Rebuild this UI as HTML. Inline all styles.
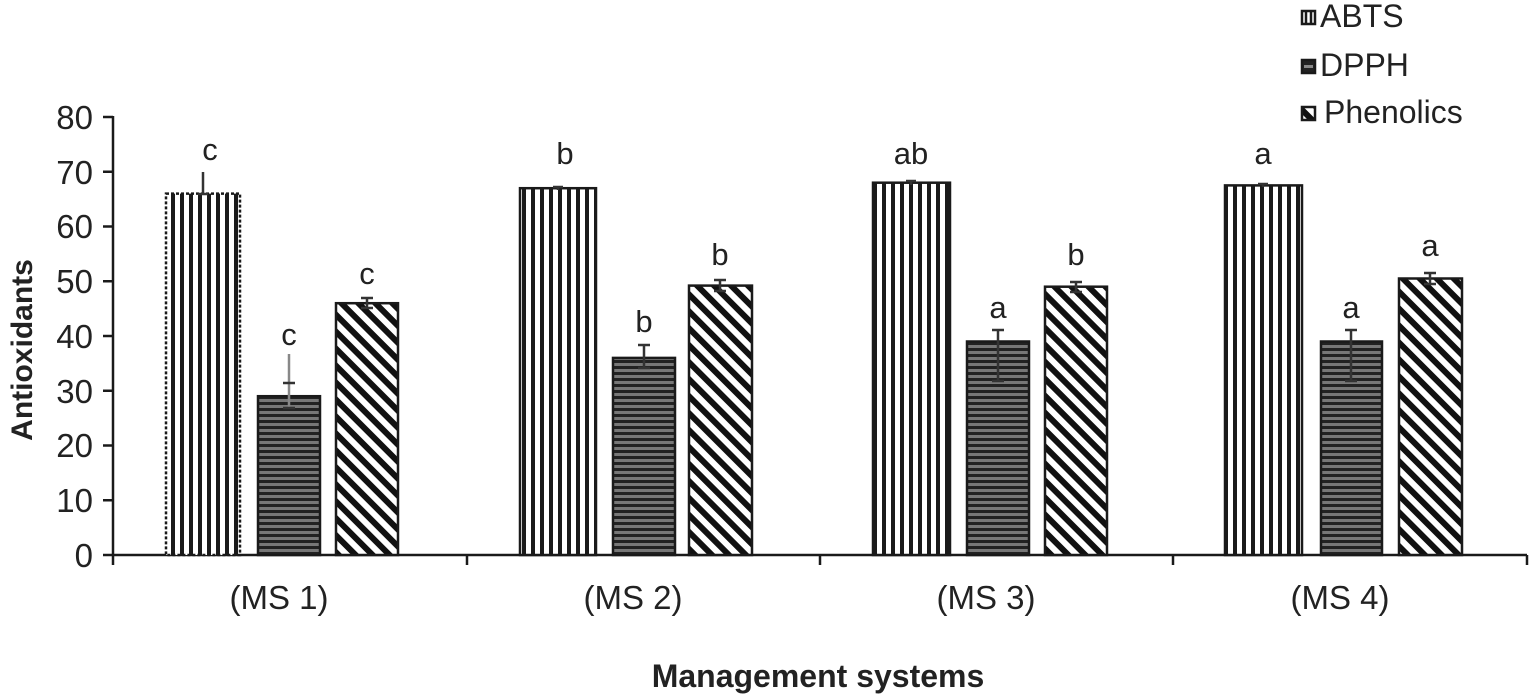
<!DOCTYPE html>
<html><head><meta charset="utf-8"><style>
html,body{margin:0;padding:0;background:#fff;}
svg{display:block;font-family:"Liberation Sans",Arial,sans-serif;}
</style></head><body>
<svg width="1532" height="694" viewBox="0 0 1532 694" xmlns="http://www.w3.org/2000/svg">
<defs>
<pattern id="vs" patternUnits="userSpaceOnUse" width="9" height="10" x="0" y="0">
<rect width="9" height="10" fill="#fff"/><rect x="0" width="4" height="10" fill="#1a1a1a"/></pattern>
<pattern id="hs" patternUnits="userSpaceOnUse" width="10" height="6">
<rect width="10" height="6" fill="#222"/><rect y="3" width="10" height="3" fill="#777"/></pattern>
<pattern id="ds" patternUnits="userSpaceOnUse" width="12" height="12" patternTransform="rotate(-45)">
<rect width="12" height="12" fill="#fff"/><rect width="6" height="12" fill="#111"/></pattern>
</defs>
<g stroke="#1a1a1a" stroke-width="2.5">
<line x1="113" y1="116" x2="113" y2="565"/>
<line x1="112" y1="555" x2="1527" y2="555"/>
<line x1="103" y1="117" x2="113" y2="117"/><line x1="103" y1="171.75" x2="113" y2="171.75"/>
<line x1="103" y1="226.5" x2="113" y2="226.5"/><line x1="103" y1="281.25" x2="113" y2="281.25"/>
<line x1="103" y1="336" x2="113" y2="336"/><line x1="103" y1="390.75" x2="113" y2="390.75"/>
<line x1="103" y1="445.5" x2="113" y2="445.5"/><line x1="103" y1="500.25" x2="113" y2="500.25"/>
<line x1="103" y1="555" x2="113" y2="555"/>
<line x1="467" y1="555" x2="467" y2="565"/><line x1="820" y1="555" x2="820" y2="565"/>
<line x1="1173" y1="555" x2="1173" y2="565"/><line x1="1527" y1="555" x2="1527" y2="565"/>
</g>
<g font-size="33" fill="#222" text-anchor="end">
<text x="93" y="129">80</text><text x="93" y="184">70</text><text x="93" y="238">60</text>
<text x="93" y="293">50</text><text x="93" y="348">40</text><text x="93" y="403">30</text>
<text x="93" y="457">20</text><text x="93" y="512">10</text><text x="93" y="567">0</text>
</g>
<text transform="translate(32,350) rotate(-90)" font-size="30" font-weight="bold" text-anchor="middle" fill="#222">Antioxidants</text>
<text x="818" y="687" font-size="32" font-weight="bold" text-anchor="middle" fill="#222">Management systems</text>
<g font-size="33" fill="#222" text-anchor="middle">
<text x="279" y="609">(MS 1)</text><text x="633" y="609">(MS 2)</text>
<text x="986" y="609">(MS 3)</text><text x="1340" y="609">(MS 4)</text>
</g>
<!-- bars -->
<g stroke="#1a1a1a" stroke-width="2.5">
<rect x="166" y="193.6" width="74" height="361.4" fill="url(#vs)" stroke-dasharray="3,2"/>
<rect x="258" y="396.2" width="62" height="158.8" fill="url(#hs)"/>
<rect x="336" y="303.2" width="62" height="251.8" fill="url(#ds)"/>
<rect x="520" y="188.2" width="76" height="366.8" fill="url(#vs)"/>
<rect x="613" y="357.9" width="62" height="197.1" fill="url(#hs)"/>
<rect x="689" y="285.6" width="63" height="269.4" fill="url(#ds)"/>
<rect x="873" y="182.7" width="77" height="372.3" fill="url(#vs)"/>
<rect x="967" y="341.5" width="62" height="213.5" fill="url(#hs)"/>
<rect x="1045" y="286.7" width="62" height="268.3" fill="url(#ds)"/>
<rect x="1225" y="185.4" width="77" height="369.6" fill="url(#vs)"/>
<rect x="1321" y="341.5" width="61" height="213.5" fill="url(#hs)"/>
<rect x="1399" y="278.5" width="63" height="276.5" fill="url(#ds)"/>
</g>
<!-- error bars -->
<g stroke="#333" stroke-width="2.5">
<line x1="203" y1="172" x2="203" y2="194"/><line x1="198" y1="194" x2="208" y2="194"/>
<line x1="289" y1="354" x2="289" y2="408" stroke="#888"/><line x1="283" y1="383" x2="295" y2="383"/><line x1="283" y1="408" x2="295" y2="408"/>
<line x1="367" y1="298" x2="367" y2="308"/><line x1="361" y1="298" x2="373" y2="298"/><line x1="361" y1="308" x2="373" y2="308"/>
<line x1="558" y1="187" x2="558" y2="190"/><line x1="553" y1="187" x2="563" y2="187"/>
<line x1="644" y1="345" x2="644" y2="368"/><line x1="638" y1="345" x2="650" y2="345"/><line x1="638" y1="368" x2="650" y2="368"/>
<line x1="720" y1="280" x2="720" y2="291"/><line x1="714" y1="280" x2="726" y2="280"/><line x1="714" y1="291" x2="726" y2="291"/>
<line x1="911" y1="181" x2="911" y2="185"/><line x1="906" y1="181" x2="916" y2="181"/>
<line x1="998" y1="330" x2="998" y2="381"/><line x1="992" y1="330" x2="1004" y2="330"/><line x1="992" y1="381" x2="1004" y2="381"/>
<line x1="1076" y1="282" x2="1076" y2="292"/><line x1="1070" y1="282" x2="1082" y2="282"/><line x1="1070" y1="292" x2="1082" y2="292"/>
<line x1="1263" y1="184" x2="1263" y2="187"/><line x1="1258" y1="184" x2="1268" y2="184"/>
<line x1="1351" y1="330" x2="1351" y2="381"/><line x1="1345" y1="330" x2="1357" y2="330"/><line x1="1345" y1="381" x2="1357" y2="381"/>
<line x1="1430" y1="273" x2="1430" y2="284"/><line x1="1424" y1="273" x2="1436" y2="273"/><line x1="1424" y1="284" x2="1436" y2="284"/>
</g>
<!-- letters -->
<g font-size="31" fill="#222" text-anchor="middle">
<text x="210" y="160">c</text><text x="289" y="345">c</text><text x="367" y="284">c</text>
<text x="565" y="164">b</text><text x="644" y="332">b</text><text x="720" y="265">b</text>
<text x="911" y="164">ab</text><text x="998" y="318">a</text><text x="1076" y="265">b</text>
<text x="1263" y="164">a</text><text x="1351" y="318">a</text><text x="1430" y="256">a</text>
</g>
<!-- legend -->
<g stroke="#1a1a1a" stroke-width="2.5">
<rect x="1302" y="11" width="13" height="13" fill="#fff"/><line x1="1306" y1="11" x2="1306" y2="24"/><line x1="1311" y1="11" x2="1311" y2="24"/>
<rect x="1302" y="60" width="13" height="13" fill="#222"/><rect x="1304" y="65" width="9" height="3" fill="#888" stroke="none"/>
<rect x="1302" y="107" width="13" height="13" fill="url(#ds)"/>
</g>
<g font-size="32" fill="#222">
<text x="1320" y="27">ABTS</text><text x="1320" y="76">DPPH</text><text x="1324" y="123">Phenolics</text>
</g>
</svg>
</body></html>
